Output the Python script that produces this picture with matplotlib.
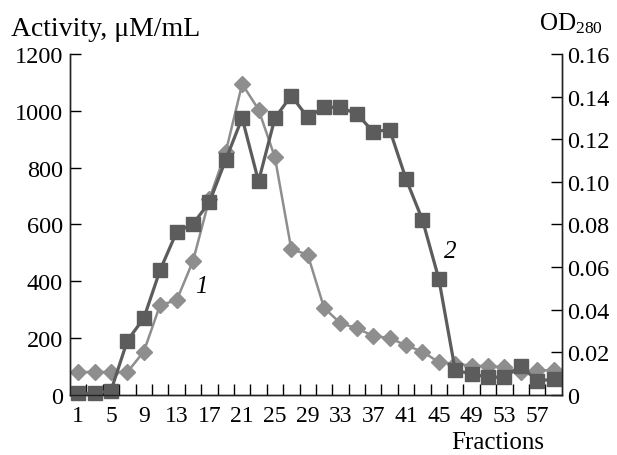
import matplotlib
matplotlib.use("Agg")
import matplotlib.pyplot as plt
import numpy as np

plt.rcParams['font.family'] = ['Liberation Serif', 'DejaVu Serif']
plt.rcParams['mathtext.fontset'] = 'custom'
plt.rcParams['mathtext.rm'] = 'Liberation Serif'
plt.rcParams['mathtext.it'] = 'Liberation Serif:italic'

# fractions 1, 3, 5 ... 59
fractions = list(range(1, 60, 2))
tick_labels = [str(f) for f in range(1, 58, 4)]

# curve 2 - activity, uM/mL (left axis)
activity = [5, 5, 15, 191, 270, 440, 573, 602, 678, 828,
            975, 752, 975, 1054, 977, 1013, 1013, 989, 927, 934,
            760, 616, 408, 86, 74, 62, 62, 101, 50, 54]

# curve 1 - OD280 (right axis)
od280 = [0.0107, 0.0107, 0.0107, 0.0107, 0.0203, 0.0423, 0.0443, 0.0628, 0.092, 0.114,
         0.146, 0.134, 0.1115, 0.0683, 0.0659, 0.0408, 0.0336, 0.0313, 0.0276, 0.0267,
         0.0232, 0.0203, 0.0153, 0.0145, 0.0137, 0.0135, 0.0129, 0.0107, 0.0115, 0.0115]

x = np.arange(len(fractions))

fig = plt.figure(figsize=(6.17, 4.56), dpi=100)
ax = fig.add_axes([0.1135, 0.132, 0.797, 0.747])
ax2 = ax.twinx()
ax.set_zorder(ax2.get_zorder() + 1)
ax.patch.set_visible(False)

ax2.plot(x, od280, color='#8e8e8e', lw=1.8, marker='D', markersize=8.5,
         markeredgecolor='#8e8e8e', clip_on=False)
ax.plot(x, activity, color='#5c5c5c', lw=2.3, marker='s', markersize=10.5,
        markeredgecolor='#5c5c5c', clip_on=False)

ax.set_xlim(-0.5, len(x) - 0.5)
ax.set_ylim(0, 1200)
ax2.set_ylim(0, 0.16)

ax.set_yticks(range(0, 1201, 200))
ax2.set_yticks(np.arange(0, 0.161, 0.02))
ax2.set_yticklabels(['0'] + ['%.2f' % v for v in np.arange(0.02, 0.161, 0.02)])

ax.set_xticks(x[::2])
ax.set_xticklabels(tick_labels)
ax.set_xticks(np.arange(0.5, len(x) - 0.5, 1), minor=True)
ax.tick_params(axis='x', which='major', length=0, labelsize=17, pad=7)
ax.tick_params(axis='x', which='minor', direction='in', length=8, width=1)
ax.tick_params(axis='y', direction='in', length=8, width=1, labelsize=17.5, pad=5)
ax2.tick_params(axis='y', direction='in', length=8, width=1, labelsize=17.5, pad=4)

for a in (ax, ax2):
    a.spines['top'].set_visible(False)
    for s in ('left', 'right', 'bottom'):
        a.spines[s].set_linewidth(1)
        a.spines[s].set_color('#222222')

fig.text(0.018, 0.935, 'Activity, μM/mL', fontsize=20, ha='left', va='center')
fig.text(0.925, 0.948, r'OD$_{\mathrm{280}}$', fontsize=18, ha='center', va='center')
fig.text(0.807, 0.016, 'Fractions', fontsize=18, ha='center', va='baseline')

ax.text(0.327, 0.371, '1', transform=fig.transFigure, fontsize=18, style='italic',
        ha='center', va='center')
ax.text(0.729, 0.447, '2', transform=fig.transFigure, fontsize=18, style='italic',
        ha='center', va='center')

fig.savefig('out.png', dpi=100)
